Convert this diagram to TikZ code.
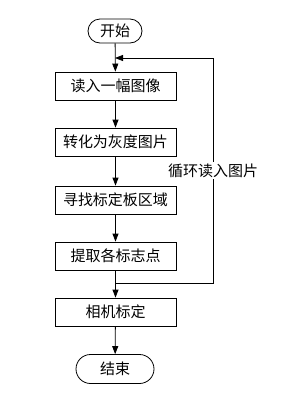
\documentclass[tikz,border=0pt]{standalone}
\usepackage{fontspec}
\setmainfont{Noto Sans CJK SC}
\usetikzlibrary{arrows.meta, positioning, shapes.misc}
\tikzset{
  procbox/.style={rectangle, draw, line width=0.8pt, minimum width=121pt,
                  minimum height=28pt, inner sep=0pt, font=\fontsize{15}{17}\selectfont},
  termbox/.style={rounded rectangle, draw, line width=0.8pt, minimum width=#1,
                  inner sep=0pt, font=\fontsize{15}{17}\selectfont},
  termbox/.default=54pt,
  flowarrow/.style={-{Triangle[length=8pt, width=6pt]}, line width=0.8pt},
  looplabel/.style={fill=white, inner sep=2pt, font=\fontsize{15}{17}\selectfont},
}

\begin{document}
\begin{tikzpicture}[x=1pt, y=-1pt]
  \useasboundingbox (0,0) rectangle (290,394);
  % terminals and steps
  \node[termbox, minimum height=24pt] (start) at (115,31) {开始};
  \node[procbox] (read)   at (115.5,86)  {读入一幅图像};
  \node[procbox] (gray)   at (115.5,142) {转化为灰度图片};
  \node[procbox] (board)  at (115.5,200) {寻找标定板区域};
  \node[procbox] (marks)  at (115.5,256) {提取各标志点};
  \node[procbox] (calib)  at (115.5,312) {相机标定};
  \node[termbox=78pt, minimum height=29pt] (finish) at (115,369) {结束};

  % loop corners
  \coordinate (loopbot) at (213,283);
  \coordinate (looptop) at (213,58);

  % main flow
  \draw[flowarrow] (start) -- (read);
  \draw[flowarrow] (read) -- (gray);
  \draw[flowarrow] (gray) -- (board);
  \draw[flowarrow] (board) -- (marks);
  \draw[flowarrow] (marks) -- (calib);
  \draw[flowarrow] (calib) -- (finish);

  % read next image
  \draw[flowarrow] (start.south |- loopbot) -- (loopbot)
    -- node[looplabel] {循环读入图片} (looptop) -- (start.south |- looptop);
\end{tikzpicture}
\end{document}
